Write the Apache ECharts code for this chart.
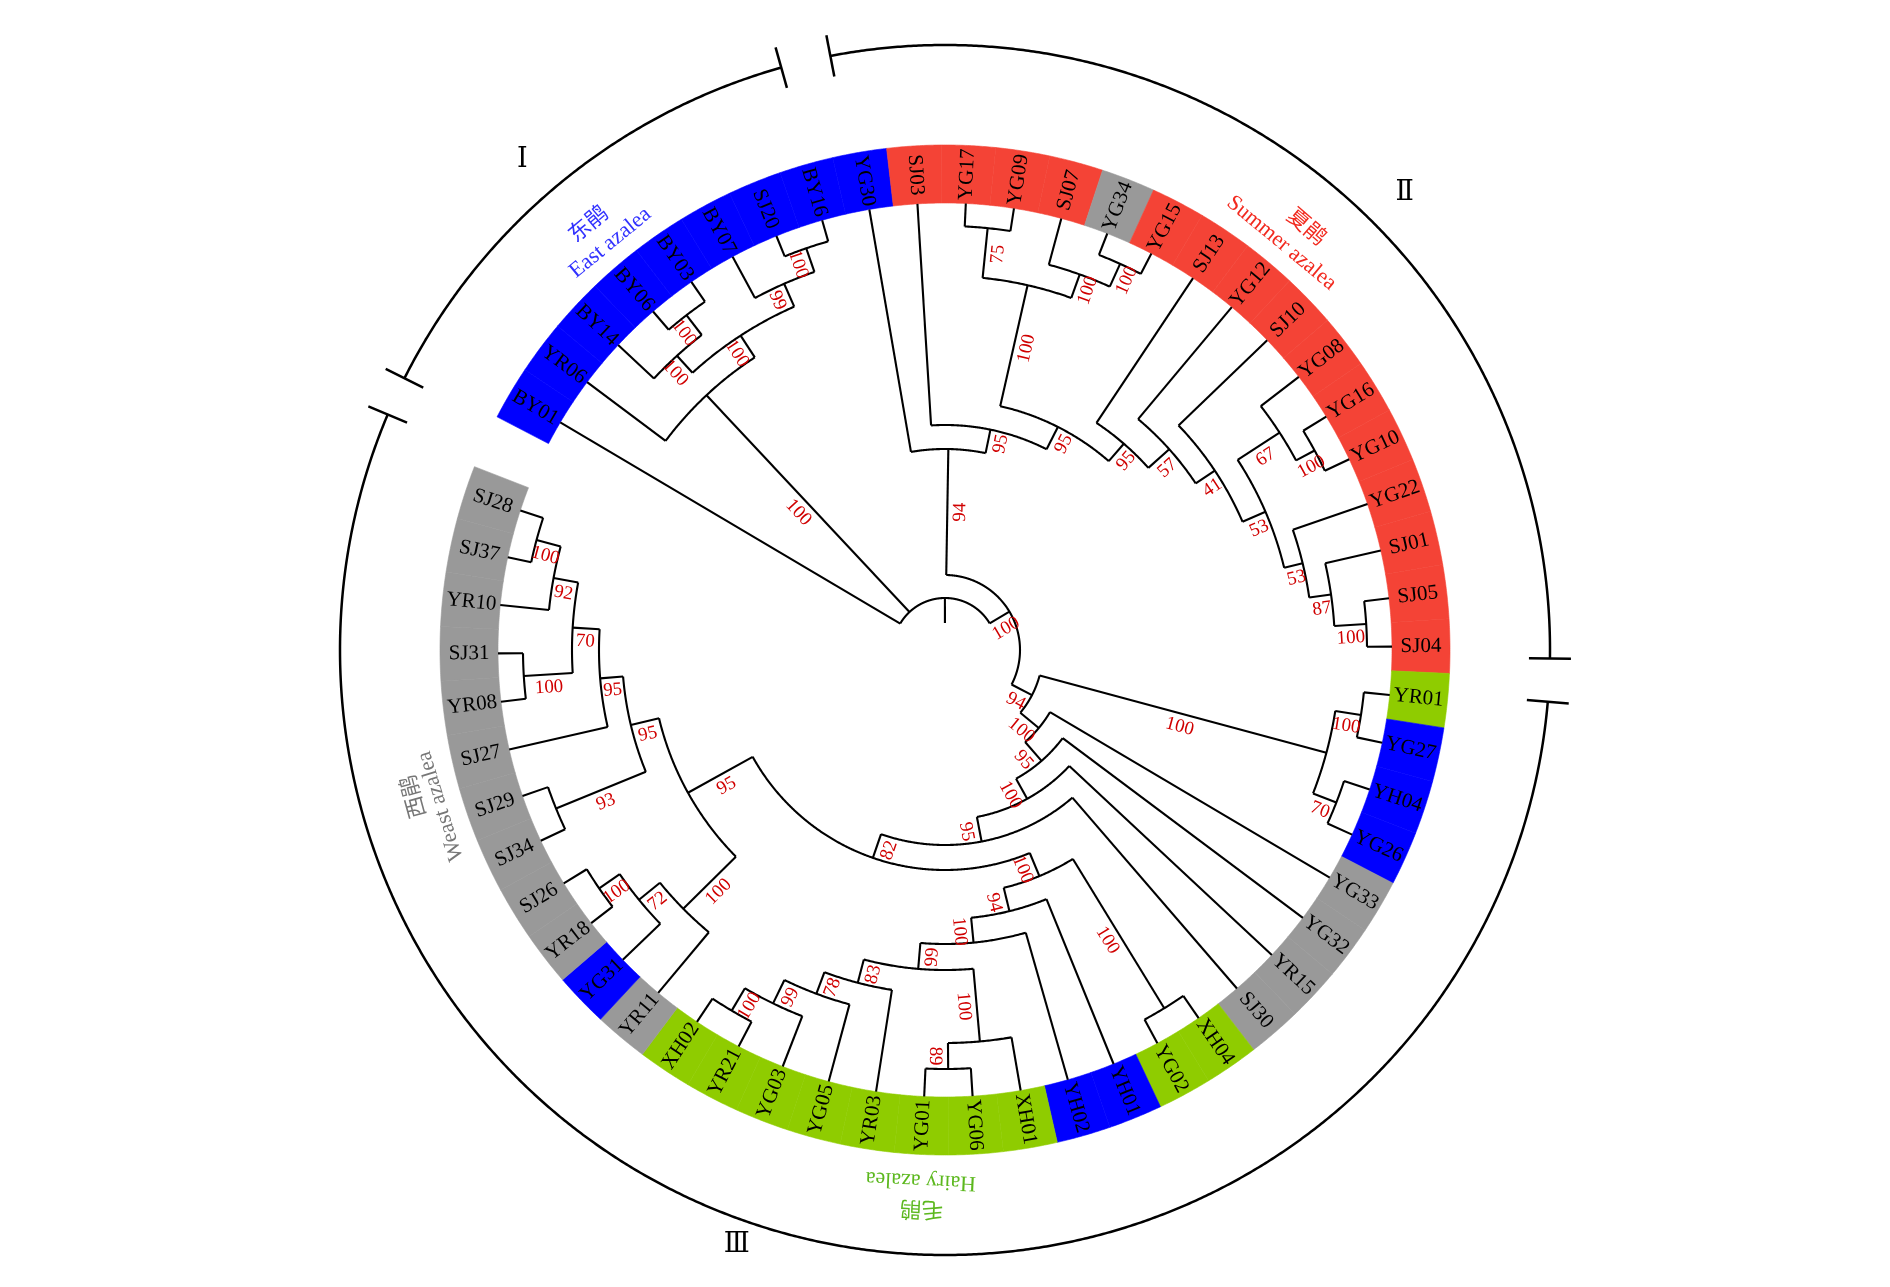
<!DOCTYPE html>
<html>
<head>
<meta charset="utf-8">
<title>Azalea cluster tree</title>
<script src="https://cdn.jsdelivr.net/npm/echarts@6/dist/echarts.min.js"></script>
<style>
  html, body { margin: 0; padding: 0; background: #fff; }
  #main { width: 1890px; height: 1287px; }
</style>
</head>
<body>
<div id="main"></div>
<script>
// tips, clockwise from BY01 (one empty slot left between SJ28 and BY01)
var leaves = ['BY01','YR06','BY14','BY06','BY03','BY07','SJ20','BY16','YG30',
  'SJ03','YG17','YG09','SJ07','YG34','YG15','SJ13','YG12','SJ10','YG08','YG16','YG10','YG22','SJ01','SJ05','SJ04',
  'YR01','YG27','YH04','YG26','YG33','YG32','YR15','SJ30','XH04','YG02','YH01','YH02','XH01','YG06','YG01',
  'YR03','YG05','YG03','YR21','XH02','YR11','YG31','YR18','SJ26','SJ34','SJ29','SJ27','YR08','SJ31','YR10','SJ37','SJ28'];

// cultivar group of each tip: E east, S summer, H hairy, W west
var leafGroup = ('EEEEEEEEE' + 'SSSS' + 'W' + 'SSSSSSSSSSS' + 'H' + 'EEE' + 'WWWW' + 'HH' + 'EE' +
  'HHHHHHHH' + 'W' + 'E' + 'WWWWWWWWWW').split('');

var slotCount = 58;

// internal nodes: name, children, node depth (distance from centre), bootstrap
var treeNodes = [
  ['root', 'BY01 F N100', 52, null],
  ['F', 'YR06 C', 349, 100],
  ['C', 'E B', 375, 100],
  ['E', 'BY14 D', 398, 100],
  ['D', 'BY06 BY03', 423, 100],
  ['B', 'BY07 A', 400, 99],
  ['A', 'SJ20 BY16', 425, 100],
  ['N100', 'R G94', 75, 100],
  ['R', 'YG30 S1', 201, 94],
  ['S1', 'SJ03 S2', 225, 95],
  ['S2', 'Syg S3', 250, 95],
  ['Syg', 'P75 Q', 374, 100],
  ['P75', 'YG17 YG09', 424, 75],
  ['Q', 'SJ07 T', 399, 100],
  ['T', 'YG34 YG15', 424, 100],
  ['S3', 'SJ13 S4', 273, 95],
  ['S4', 'YG12 S5', 301, 57],
  ['S5', 'SJ10 S6', 324, 41],
  ['S6', 'S7 S8', 349, 53],
  ['S7', 'YG08 S7b', 399, 67],
  ['S7b', 'YG16 YG10', 420, 100],
  ['S8', 'YG22 S9', 368, 53],
  ['S9', 'SJ01 S10', 390, 87],
  ['S10', 'SJ05 SJ04', 422, 100],
  ['G94', 'K G100b', 98, 94],
  ['K', 'P100 P70', 395, 100],
  ['P100', 'YR01 YG27', 421, 100],
  ['P70', 'YH04 YG26', 420, 70],
  ['G100b', 'YG33 G95', 122, 100],
  ['G95', 'YG32 G100c', 147, 95],
  ['G100c', 'YR15 G95b', 170, 100],
  ['G95b', 'SJ30 G82', 195, 95],
  ['G82', 'H100 W95', 220, 82],
  ['H100', 'H100c H94', 245, 100],
  ['H100c', 'XH04 YG02', 420, 100],
  ['H94', 'YH01 H100e', 269, 94],
  ['H100e', 'YH02 H99', 294, 100],
  ['H99', 'H100f H83', 320, 99],
  ['H100f', 'XH01 H89', 393, 100],
  ['H89', 'YG06 YG01', 419, 89],
  ['H83', 'YR03 H78', 344, 83],
  ['H78', 'YG05 H99b', 367, 78],
  ['H99b', 'YG03 H100g', 393, 99],
  ['H100g', 'YR21 XH02', 419, 100],
  ['W95', 'W100 W95b', 294, 95],
  ['W100', 'YR11 W72', 368, 100],
  ['W72', 'YG31 W100b', 395, 72],
  ['W100b', 'YR18 SJ26', 420, 100],
  ['W95b', 'W93 W95c', 323, 95],
  ['W93', 'SJ34 SJ29', 420, 93],
  ['W95c', 'SJ27 W70', 346, 95],
  ['W70', 'W100c W92', 373, 70],
  ['W100c', 'YR08 SJ31', 422, 100],
  ['W92', 'YR10 W100d', 398, 92],
  ['W100d', 'SJ37 SJ28', 423, 100]
];

var tipDepth = 447;
var rootStub = 27;

// outer clade brackets: numeral, from slot, to slot
var cladeSpans = [
  ['Ⅰ', -0.63, 7.04],
  ['Ⅱ', 7.81, 24.2],
  ['Ⅲ', 24.86, 56.76]
];
var numeralPos = [[647, 3.0], [648, 16.85], [630, 41.68]];

// group names round the ring
var groupTitles = [
  ['东鹃', 557, 3.14, '#3232ff'], ['East azalea', 527, 3.22, '#3232ff'],
  ['夏鹃', 558, 16.1, '#f22a1f'], ['Summer azalea', 528, 15.95, '#f22a1f'],
  ['毛鹃', 561, 38.96, '#5cb81e'], ['Hairy azalea', 531, 38.99, '#5cb81e'],
  ['西鹃', 553, 50.59, '#777777'], ['Weast azalea', 528, 50.3, '#777777']
];

var groupColor = { E: '#0000ff', S: '#f44336', H: '#8fcc00', W: '#999999' };

// ---- build tree geometry in (depth, slot) units ----
var leafIndex = {};
leaves.forEach(function (n, i) { leafIndex[n] = i; });
var nodeInfo = {};
treeNodes.forEach(function (row) {
  nodeInfo[row[0]] = { kids: row[1].split(' '), depth: row[2], support: row[3] };
});
function angleOf(name) {
  if (name in leafIndex) return leafIndex[name];
  var n = nodeInfo[name];
  if (n.angle == null) {
    var a = n.kids.map(angleOf);
    n.angle = (Math.min.apply(null, a) + Math.max.apply(null, a)) / 2;
  }
  return n.angle;
}
function depthOf(name) {
  return (name in leafIndex) ? tipDepth : nodeInfo[name].depth;
}

var branchData = [];   // [r0, a0, r1, a1, kind] kind 0 = arc, 1 = radial
var supportData = [];  // [midDepth, angle, value]
treeNodes.forEach(function (row) {
  var n = nodeInfo[row[0]];
  var ka = n.kids.map(angleOf);
  branchData.push([n.depth, Math.min.apply(null, ka), n.depth, Math.max.apply(null, ka), 0]);
  n.kids.forEach(function (k) {
    branchData.push([n.depth, angleOf(k), depthOf(k), angleOf(k), 1]);
    if (!(k in leafIndex) && nodeInfo[k].support != null) {
      supportData.push([(n.depth + nodeInfo[k].depth) / 2, angleOf(k), nodeInfo[k].support]);
    }
  });
});
branchData.push([rootStub, angleOf('root'), nodeInfo.root.depth, angleOf('root'), 1]);

function arcPoints(api, r, a0, a1) {
  var steps = Math.max(2, Math.ceil(Math.abs(a1 - a0) / 0.04));
  var pts = [];
  for (var i = 0; i <= steps; i++) pts.push(api.coord([r, a0 + (a1 - a0) * i / steps]));
  return pts;
}
// screen angle of the outward direction at a slot
function outward(api, r, a) {
  var p = api.coord([r, a]), c = api.coord([0, a]);
  var phi = Math.atan2(p[1] - c[1], p[0] - c[0]);
  return { p: p, phi: phi, right: Math.cos(phi) >= 0 };
}
function radialRotation(o) {
  return o.right ? -o.phi : Math.PI - o.phi;
}

var serif = '"Liberation Serif", "Times New Roman", serif';

var chart = echarts.init(document.getElementById('main'));
var option = {
  backgroundColor: '#ffffff',
  animation: false,
  polar: { center: [945, 650], radius: 605 },
  radiusAxis: {
    type: 'value', min: 0, max: 605,
    axisLine: { show: false }, axisTick: { show: false }, axisLabel: { show: false }, splitLine: { show: false }
  },
  angleAxis: {
    type: 'value', min: 0, max: slotCount, startAngle: 149.4, clockwise: true,
    axisLine: { show: false }, axisTick: { show: false }, axisLabel: { show: false }, splitLine: { show: false }
  },
  series: [
    {
      // coloured ring of groups
      type: 'custom', coordinateSystem: 'polar', silent: true,
      data: leaves.map(function (n, i) { return [505, i]; }),
      renderItem: function (params, api) {
        var i = api.value(1);
        var outer = arcPoints(api, 505, i - 0.5, i + 0.5);
        var inner = arcPoints(api, tipDepth, i + 0.5, i - 0.5);
        var col = groupColor[leafGroup[params.dataIndex]];
        return {
          type: 'polygon', shape: { points: outer.concat(inner) },
          style: { fill: col, stroke: col, lineWidth: 0.6 }
        };
      }
    },
    {
      // branches
      type: 'custom', coordinateSystem: 'polar', silent: true,
      data: branchData,
      renderItem: function (params, api) {
        var r0 = api.value(0), a0 = api.value(1), r1 = api.value(2), a1 = api.value(3);
        var pts = api.value(4) === 0 ? arcPoints(api, r0, a0, a1) : [api.coord([r0, a0]), api.coord([r1, a1])];
        return {
          type: 'polyline', shape: { points: pts },
          style: { stroke: '#000', lineWidth: 2.1, fill: null, lineJoin: 'miter' }
        };
      }
    },
    {
      // tip names
      type: 'custom', coordinateSystem: 'polar', silent: true,
      data: leaves.map(function (n, i) { return [476, i]; }),
      renderItem: function (params, api) {
        var o = outward(api, api.value(0), api.value(1));
        return {
          type: 'text', x: o.p[0], y: o.p[1], rotation: radialRotation(o),
          style: {
            text: leaves[params.dataIndex], fill: '#000', fontSize: 21, fontFamily: serif,
            align: 'center', verticalAlign: 'middle'
          }
        };
      }
    },
    {
      // bootstrap values, under the branch they belong to
      type: 'custom', coordinateSystem: 'polar', silent: true,
      data: supportData,
      renderItem: function (params, api) {
        var o = outward(api, api.value(0), api.value(1));
        var dx = Math.cos(o.phi), dy = Math.sin(o.phi);
        if (!o.right) { dx = -dx; dy = -dy; }
        var off = 13;
        return {
          type: 'text', x: o.p[0] - dy * off, y: o.p[1] + dx * off, rotation: radialRotation(o),
          style: {
            text: String(api.value(2)), fill: '#d00000', fontSize: 19, fontFamily: serif,
            align: 'center', verticalAlign: 'middle'
          }
        };
      }
    },
    {
      // outer clade brackets with break ticks
      type: 'custom', coordinateSystem: 'polar', silent: true,
      data: cladeSpans.map(function (s) { return [605, s[1], s[2]]; }),
      renderItem: function (params, api) {
        var r = api.value(0), a0 = api.value(1), a1 = api.value(2);
        var st = { stroke: '#000', lineWidth: 2.5, fill: null };
        return {
          type: 'group', children: [
            { type: 'polyline', shape: { points: arcPoints(api, r, a0, a1) }, style: st },
            { type: 'polyline', shape: { points: [api.coord([r - 21, a0]), api.coord([r + 21, a0])] }, style: st },
            { type: 'polyline', shape: { points: [api.coord([r - 21, a1]), api.coord([r + 21, a1])] }, style: st }
          ]
        };
      }
    },
    {
      // clade numerals
      type: 'custom', coordinateSystem: 'polar', silent: true,
      data: numeralPos,
      renderItem: function (params, api) {
        var p = api.coord([api.value(0), api.value(1)]);
        return {
          type: 'text', x: p[0], y: p[1],
          style: {
            text: cladeSpans[params.dataIndex][0], fill: '#000', fontSize: 27,
            fontFamily: '"DejaVu Serif", "Liberation Serif", serif', align: 'center', verticalAlign: 'middle'
          }
        };
      }
    },
    {
      // group names, written clockwise along the ring
      type: 'custom', coordinateSystem: 'polar', silent: true,
      data: groupTitles.map(function (g) { return [g[1], g[2]]; }),
      renderItem: function (params, api) {
        var g = groupTitles[params.dataIndex];
        var o = outward(api, api.value(0), api.value(1));
        var cjk = /[\u4e00-\u9fff]/.test(g[0]);
        return {
          type: 'text', x: o.p[0], y: o.p[1], rotation: -(o.phi + Math.PI / 2),
          style: {
            text: g[0], fill: g[3], fontSize: 22,
            fontFamily: cjk ? '"Noto Sans CJK SC", sans-serif' : serif,
            align: 'center', verticalAlign: 'middle'
          }
        };
      }
    }
  ]
};
chart.setOption(option);
</script>
</body>
</html>
